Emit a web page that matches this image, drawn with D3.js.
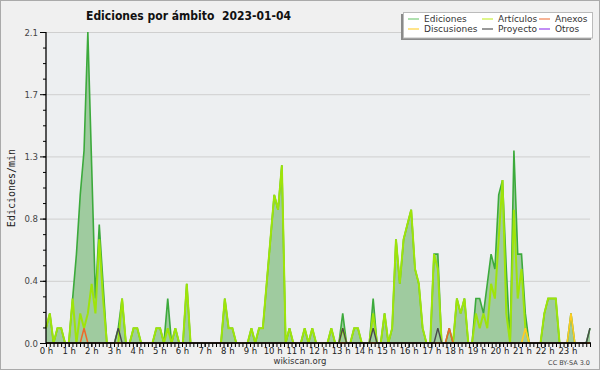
<!DOCTYPE html>
<html><head><meta charset="utf-8">
<script src="https://cdn.jsdelivr.net/npm/d3@7"></script>
<style>
body{margin:0;background:#f0f0f0}
svg{display:block}
</style>
</head><body>
<svg id="c" width="600" height="370"></svg>
<script>
// ---- data: 144 ten-minute bins (edits per minute) ----
const ediciones = [
  0.1,0.2,0,0.1,0.1,0,0,0.3,0.6,1.0,1.3,2.1,
  1.2,0.3,0.8,0.4,0,0,0,0.1,0.3,0,0,0.1,
  0.1,0,0,0,0,0.1,0.1,0,0.3,0,0.1,0,
  0,0.4,0,0,0,0,0,0,0,0,0,0.3,
  0.1,0.1,0,0,0,0,0.1,0,0.1,0.1,0.4,0.7,
  1.0,0.9,1.2,0,0.1,0,0,0,0.1,0,0.1,0,
  0,0,0,0.1,0,0,0.2,0,0,0.1,0.1,0,
  0,0,0.3,0,0,0.2,0,0.1,0.7,0.4,0.7,0.8,
  0.9,0.5,0.4,0.1,0,0,0.6,0.6,0,0,0.1,0,
  0.3,0.2,0.3,0,0,0.3,0.3,0.2,0.4,0.6,0.5,1.0,
  1.1,0.5,0,1.3,0.6,0.6,0.2,0,0,0,0,0.2,
  0.3,0.3,0.3,0,0,0,0.2,0,0,0,0,0.1
];
const articulos = [
  0.1,0.2,0,0.1,0.1,0,0,0.3,0,0.2,0.1,0.2,
  0.4,0.2,0.7,0.3,0,0,0,0,0.3,0,0,0.1,
  0.1,0,0,0,0,0.1,0.1,0,0.1,0,0.1,0,
  0,0.4,0,0,0,0,0,0,0,0,0,0.3,
  0.1,0.1,0,0,0,0,0.1,0,0.1,0.1,0.4,0.7,
  1.0,0.9,1.2,0,0.1,0,0,0,0.1,0,0.1,0,
  0,0,0,0.1,0,0,0.1,0,0,0.1,0.1,0,
  0,0,0.2,0,0,0.2,0,0.1,0.7,0.4,0.7,0.8,
  0.9,0.5,0.4,0.1,0,0,0.6,0.5,0,0,0,0,
  0.3,0.2,0.3,0,0,0.2,0.1,0.2,0.1,0.4,0.3,0.7,
  1.1,0.2,0,0.9,0.3,0.5,0.1,0,0,0,0,0.2,
  0.3,0.3,0.3,0,0,0,0,0,0,0,0,0
];
const anexos = [
  0,0,0,0,0,0,0,0,0,0,0.1,0,
  0,0,0,0,0,0,0,0,0,0,0,0,
  0,0,0,0,0,0,0,0,0,0,0,0,
  0,0,0,0,0,0,0,0,0,0,0,0,
  0,0,0,0,0,0,0,0,0,0,0,0,
  0,0,0,0,0,0,0,0,0,0,0,0,
  0,0,0,0,0,0,0,0,0,0,0,0,
  0,0,0,0,0,0,0,0,0,0,0,0,
  0,0,0,0,0,0,0,0,0,0,0.1,0,
  0,0,0,0,0,0,0,0,0,0,0,0,
  0,0,0,0,0,0,0,0,0,0,0,0,
  0,0,0,0,0,0,0,0,0,0,0,0
];
const discusiones = [
  0,0,0,0,0,0,0,0,0,0,0,0,
  0,0,0,0,0,0,0,0,0,0,0,0,
  0,0,0,0,0,0,0,0,0,0,0,0,
  0,0,0,0,0,0,0,0,0,0,0,0,
  0,0,0,0,0,0,0,0,0,0,0,0,
  0,0,0,0,0,0,0,0,0,0,0,0,
  0,0,0,0,0,0,0,0,0,0,0,0,
  0,0,0,0,0,0,0,0,0,0,0,0,
  0,0,0,0,0,0,0,0,0,0,0,0,
  0,0,0,0,0,0,0,0,0,0,0,0,
  0,0,0,0,0,0,0.1,0,0,0,0,0,
  0,0,0,0,0,0,0.2,0,0,0,0,0
];
const proyecto = [
  0,0,0,0,0,0,0,0,0,0,0,0,
  0,0,0,0,0,0,0,0.1,0,0,0,0,
  0,0,0,0,0,0,0,0,0,0,0,0,
  0,0,0,0,0,0,0,0,0,0,0,0,
  0,0,0,0,0,0,0,0,0,0,0,0,
  0,0,0,0,0,0,0,0,0,0,0,0,
  0,0,0,0,0,0,0.1,0,0,0,0,0,
  0,0,0.1,0,0,0,0,0,0,0,0,0,
  0,0,0,0,0,0,0,0.1,0,0,0,0,
  0,0,0,0,0,0,0,0,0,0,0,0,
  0,0,0,0,0,0,0,0,0,0,0,0,
  0,0,0,0,0,0,0,0,0,0,0,0.1
];
const otros = [
  0,0,0,0,0,0,0,0,0,0,0,0,
  0,0,0,0,0,0,0,0,0,0,0,0,
  0,0,0,0,0,0,0,0,0,0,0,0,
  0,0,0,0,0,0,0,0,0,0,0,0,
  0,0,0,0,0,0,0,0,0,0,0,0,
  0,0,0,0,0,0,0,0,0,0,0,0,
  0,0,0,0,0,0,0,0,0,0,0,0,
  0,0,0,0,0,0,0,0,0,0,0,0,
  0,0,0,0,0,0,0,0,0,0,0,0,
  0,0,0,0,0,0,0,0,0,0,0,0,
  0,0,0,0,0,0,0,0,0,0,0,0,
  0,0,0,0,0,0,0,0,0,0,0,0
];
const seriesNames = ["Ediciones","Artículos","Anexos","Discusiones","Proyecto","Otros"];
const xTickLabels = ["0 h","1 h","2 h","3 h","4 h","5 h","6 h","7 h","8 h","9 h","10 h","11 h",
  "12 h","13 h","14 h","15 h","16 h","17 h","18 h","19 h","20 h","21 h","22 h","23 h"];
const yTickValues = [0, 0.42, 0.84, 1.26, 1.68, 2.1];
const yTickLabels = ["0.0","0.4","0.8","1.3","1.7","2.1"];
const title = "Ediciones por ámbito  2023-01-04";
const yTitle = "Ediciones/min";

// ---- layout ----
const L = 46, R = 590, T = 32, B = 343;
const svg = d3.select("#c");
const colors = {
  "Ediciones":"#3caa3c", "Artículos":"#9ee40a", "Anexos":"#ee6a2a",
  "Discusiones":"#ffcc22", "Proyecto":"#4a4a4a", "Otros":"#9933ee"
};
const widths = {"Ediciones":1.6,"Artículos":2,"Anexos":1.5,"Discusiones":1.6,"Proyecto":1.4,"Otros":1.4};
const legendColors = {
  "Ediciones":"#7acc7a", "Artículos":"#c8ee3c", "Anexos":"#f08050",
  "Discusiones":"#ffd23c", "Proyecto":"#555555", "Otros":"#9944ee"
};

svg.append("rect").attr("x",0.5).attr("y",0.5).attr("width",599).attr("height",369)
  .attr("fill","#f0f0f0").attr("stroke","#aaa");
svg.append("rect").attr("x",L).attr("y",T).attr("width",R-L).attr("height",B-T).attr("fill","#edeff1");

const xi = d3.scaleLinear().domain([0, ediciones.length-1]).range([L, R]);
const xh = d3.scaleLinear().domain([0, 24]).range([L, R]);
const y = d3.scaleLinear().domain([0, 2.1]).range([B, T]);

// grid
svg.append("g").attr("transform",`translate(${L},0)`)
  .call(d3.axisLeft(y).tickValues(yTickValues.slice(1)).tickSize(-(R-L)).tickFormat(""))
  .call(g=>g.select(".domain").remove())
  .call(g=>g.selectAll("line").attr("stroke","#cfcfcf").attr("stroke-width",1));

// area + lines
const area = d3.area().x((d,i)=>xi(i)).y0(y(0)).y1(d=>y(d));
const line = d3.line().x((d,i)=>xi(i)).y(d=>y(d));
svg.append("path").datum(ediciones).attr("d",area).attr("fill","#9fcb9f");
const drawOrder = [["Ediciones",ediciones],["Artículos",articulos],["Otros",otros],["Discusiones",discusiones],["Anexos",anexos],["Proyecto",proyecto]];
drawOrder.forEach(([n,arr])=>{
  svg.append("path").datum(arr).attr("d",line).attr("fill","none")
    .attr("stroke",colors[n]).attr("stroke-width",widths[n]).attr("stroke-linejoin","miter");
});

// y axis
const yMinor = d3.range(0, 21).map(k=>k*0.105);
svg.append("g").attr("transform",`translate(${L},0)`)
  .call(d3.axisLeft(y).tickValues(yMinor).tickSize(3).tickFormat(""))
  .call(g=>g.select(".domain").remove())
  .call(g=>g.selectAll("line").attr("stroke","#000"));
svg.append("g").attr("transform",`translate(${L},0)`)
  .call(d3.axisLeft(y).tickValues(yTickValues).tickSize(6).tickPadding(2).tickFormat((d,i)=>yTickLabels[i]))
  .call(g=>g.select(".domain").remove())
  .call(g=>g.selectAll("line").attr("stroke","#000"))
  .call(g=>g.selectAll("text").attr("font-family","'Liberation Sans Narrow','DejaVu Sans Condensed',sans-serif")
     .attr("font-size","9.5px").attr("fill","#444"));

// x axis
const xMinor = d3.range(0, 145).map(k=>k/6);
svg.append("g").attr("transform",`translate(0,${B})`)
  .call(d3.axisBottom(xh).tickValues(xMinor).tickSize(4).tickFormat(""))
  .call(g=>g.select(".domain").remove())
  .call(g=>g.selectAll("line").attr("stroke","#000"));
svg.append("g").attr("transform",`translate(0,${B})`)
  .call(d3.axisBottom(xh).tickValues(d3.range(0,24)).tickSize(4).tickPadding(1).tickFormat((d,i)=>xTickLabels[i]))
  .call(g=>g.select(".domain").remove())
  .call(g=>g.selectAll("line").attr("stroke","#000"))
  .call(g=>g.selectAll("text").attr("font-family","'DejaVu Sans',sans-serif")
     .attr("font-size","8.5px").attr("fill","#222"));

// axis lines
svg.append("line").attr("x1",L).attr("x2",L).attr("y1",T).attr("y2",B+0.5).attr("stroke","#000").attr("stroke-width",1.3);
svg.append("line").attr("x1",L).attr("x2",R+1).attr("y1",B).attr("y2",B).attr("stroke","#000").attr("stroke-width",1.6);

// titles
svg.append("text").attr("x",86).attr("y",20).attr("font-family","'DejaVu Sans',sans-serif")
  .attr("font-weight","bold").attr("font-size","13px").attr("fill","#111")
  .style("white-space","pre").attr("textLength",205).attr("lengthAdjust","spacingAndGlyphs").text(title);
svg.append("text").attr("transform","translate(15,188) rotate(-90)").attr("text-anchor","middle")
  .attr("font-family","'DejaVu Sans Mono',monospace").attr("font-size","10px").attr("fill","#222").text(yTitle);
svg.append("text").attr("x",300).attr("y",364).attr("text-anchor","middle")
  .attr("font-family","'DejaVu Sans',sans-serif").attr("font-size","8.5px").attr("fill","#333").text("wikiscan.org");
svg.append("text").attr("x",590).attr("y",365).attr("text-anchor","end")
  .attr("font-family","'DejaVu Sans',sans-serif").attr("font-size","6.5px").attr("fill","#444").text("CC BY-SA 3.0");

// legend
const lg = svg.append("g");
lg.append("rect").attr("x",401).attr("y",14).attr("width",190).attr("height",26).attr("fill","#8a8a8a");
lg.append("rect").attr("x",403.5).attr("y",12.5).attr("width",189).attr("height",25.5).attr("fill","#fff").attr("stroke","#bbb");
const legPos = [[408,19],[482,19],[539,19],[408,29],[482,29],[539,29]];
const legOrder = ["Ediciones","Artículos","Anexos","Discusiones","Proyecto","Otros"];
legOrder.forEach((n,k)=>{
  const [lx,ly]=legPos[k];
  lg.append("line").attr("x1",lx).attr("x2",lx+11).attr("y1",ly).attr("y2",ly)
    .attr("stroke",legendColors[n]).attr("stroke-width",1.2);
  lg.append("text").attr("x",lx+16).attr("y",ly+3.3).attr("font-family","'DejaVu Sans',sans-serif")
    .attr("font-size","9px").attr("fill","#333").text(n);
});
</script>
</body></html>
